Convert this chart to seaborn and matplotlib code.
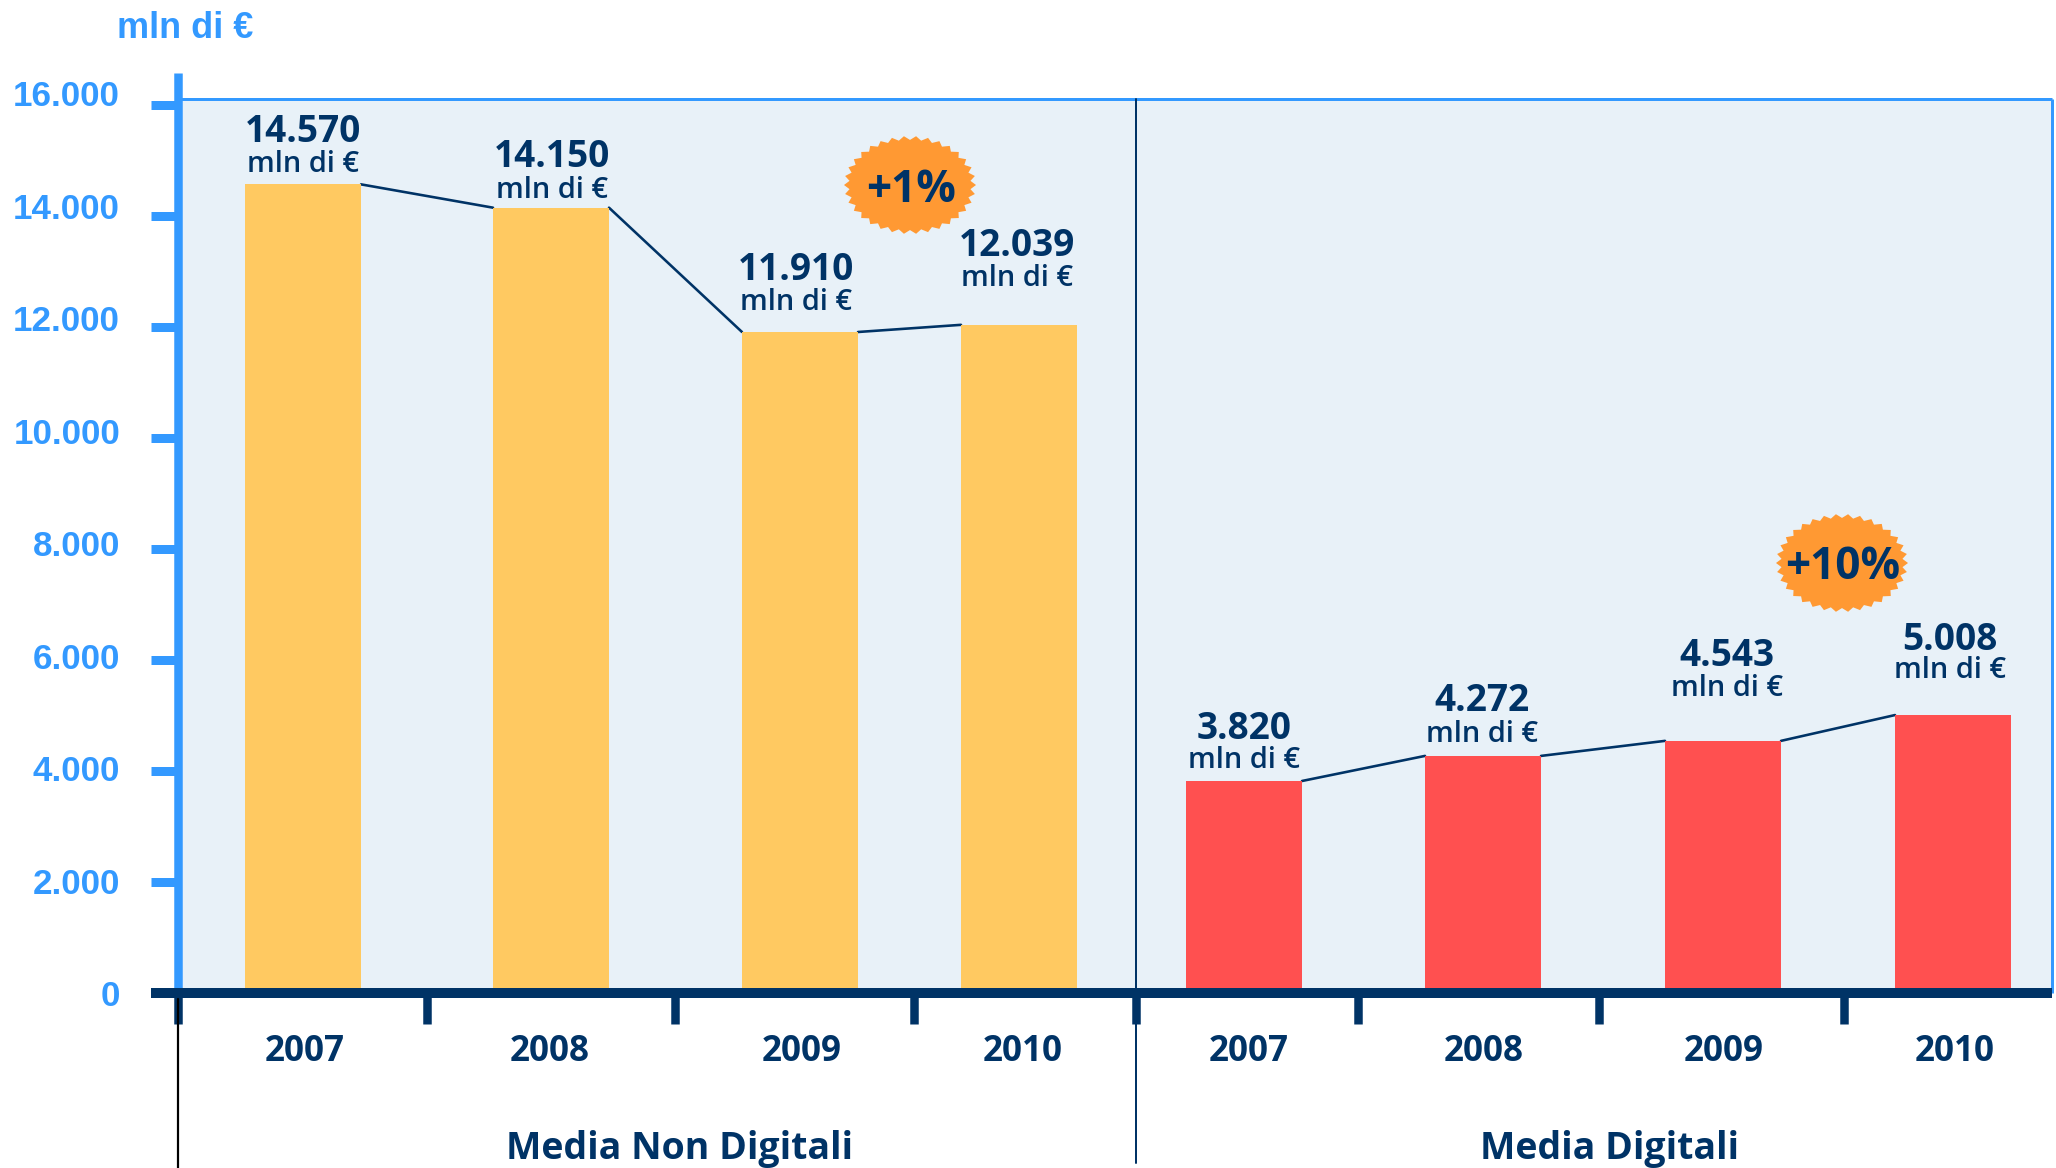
import numpy as np
import pandas as pd
import matplotlib
matplotlib.use("Agg")
import matplotlib.pyplot as plt
from matplotlib.lines import Line2D
from matplotlib.patches import Polygon
from matplotlib.transforms import ScaledTranslation
import seaborn as sns

# Advertising spend, millions of euro
years = ["2007", "2008", "2009", "2010"]
non_digital = [14570, 14150, 11910, 12039]
digital = [3820, 4272, 4543, 5008]
group_names = ["Media Non Digitali", "Media Digitali"]
growth_labels = ["+1%", "+10%"]
y_ticks = [0, 2000, 4000, 6000, 8000, 10000, 12000, 14000, 16000]
unit = "mln di €"

# Layout, in output pixels
W, H = 2056, 1168
DPI = 100
PX = 72 / DPI
y0_px, y_top_px = 993, 99
px_per_unit = 55.5 / 1000
bar_w = 116
centers = [303, 551, 800, 1019, 1244, 1483, 1723, 1953]
year_label_x = [305, 550, 802, 1023, 1249, 1484, 1724, 1955]
x_boundaries = [178, 427, 675, 914, 1136, 1358, 1599, 1844]
value_label_px = [(303, 132, 165), (552, 157, 190), (796, 270, 302), (1017, 246, 279),
                  (1244, 729, 760), (1482, 701, 734), (1727, 656, 688), (1950, 640, 671)]
badge_px = [(910, 185), (1842, 563)]
group_label_px = [(679, 1149), (1610, 1149)]

NAVY = "#003366"
SKY = "#3399FF"
PANEL = "#E8F1F8"
AMBER = "#FFC961"
CORAL = "#FF5050"
BADGE = "#FF9933"

sns.set_theme(style="white")
plt.rcParams["font.family"] = ["Open Sans", "DejaVu Sans"]
ARIAL_LIKE = ["Liberation Sans", "DejaVu Sans"]


def fx(x):
    return x / W


def fy(y):
    return 1 - y / H


def thousands(v):
    return f"{v:,}".replace(",", ".")


fig = plt.figure(figsize=(W / DPI, H / DPI), dpi=DPI, facecolor="white")
ax = fig.add_axes([fx(178), fy(y0_px), fx(2052 - 178), (y0_px - y_top_px) / H])
ax.set_facecolor(PANEL)

values = non_digital + digital
df = pd.DataFrame({
    "pos": centers,
    "value": values,
    "group": [group_names[0]] * 4 + [group_names[1]] * 4,
})
native_gap = min(np.diff(centers))
sns.barplot(data=df, x="pos", y="value", hue="group", native_scale=True, dodge=False,
            palette=[AMBER, CORAL], width=bar_w / native_gap, gap=0, saturation=1,
            linewidth=0, legend=False, ax=ax, zorder=3)

# Trend segments run from the top corner of one bar to the next
for group_values, group_centers in ((non_digital, centers[:4]), (digital, centers[4:])):
    for i in range(3):
        sns.lineplot(x=[group_centers[i] + bar_w / 2, group_centers[i + 1] - bar_w / 2],
                     y=[group_values[i], group_values[i + 1]],
                     color=NAVY, linewidth=2.6 * PX, estimator=None, sort=False,
                     ax=ax, legend=False, zorder=2)

ax.set_xlim(178, 2052)
ax.set_ylim(0, (y0_px - y_top_px) / px_per_unit)
ax.set_xlabel("")
ax.set_ylabel("")

# Axis frame
for name, colour, lw in (("top", SKY, 3), ("right", SKY, 3), ("left", SKY, 8.5), ("bottom", NAVY, 10)):
    spine = ax.spines[name]
    spine.set_visible(True)
    spine.set_color(colour)
    spine.set_linewidth(lw * PX)
    spine.set_capstyle("butt")
    spine.set_zorder(5)
ax.spines["left"].set_bounds(0, (y0_px - 73) / px_per_unit)
ax.spines["bottom"].set_bounds(151, 2052)
ax.spines["bottom"].set_zorder(6)

# Value axis
ax.set_yticks(y_ticks)
ax.set_yticklabels([thousands(v) for v in y_ticks], family=ARIAL_LIKE, fontweight="bold",
                   fontsize=35 * PX, color=SKY)
ax.tick_params(axis="y", which="major", left=True, length=27 * PX, width=9 * PX, color=SKY,
               pad=31 * PX)
for tick_value, label in zip(y_ticks, ax.get_yticklabels()):
    shift = ScaledTranslation(0, 12 * PX / 72 * tick_value / 16000, fig.dpi_scale_trans)
    label.set_transform(label.get_transform() + shift)

# Year axis: boundaries as major ticks, year names under their bars
ax.set_xticks(x_boundaries)
ax.set_xticklabels([])
ax.tick_params(axis="x", which="major", bottom=True, length=31 * PX, width=8.5 * PX, color=NAVY)
ax.set_xticks(year_label_x, minor=True)
ax.set_xticklabels(years + years, minor=True, fontweight="bold", fontsize=35 * PX, color=NAVY)
ax.tick_params(axis="x", which="minor", bottom=False, length=0, pad=41 * PX)

# Group separators below and across the plot
fig.add_artist(Line2D([fx(1136), fx(1136)], [fy(99), fy(1163)], color=NAVY, lw=2 * PX, zorder=7))
fig.add_artist(Line2D([fx(178), fx(178)], [fy(999), fy(1168)], color="black", lw=2.2 * PX, zorder=7))

# Value callouts
for v, (x, y_num, y_unit) in zip(values, value_label_px):
    fig.text(fx(x), fy(y_num), thousands(v), ha="center", va="center", fontsize=37 * PX,
             fontweight="bold", color=NAVY, zorder=8)
    fig.text(fx(x), fy(y_unit), unit, ha="center", va="center", fontsize=29 * PX,
             fontweight="semibold", color=NAVY, zorder=8)

# Growth badges
teeth = 34
angles = np.linspace(0, 2 * np.pi, 2 * teeth, endpoint=False)
radii = np.where(np.arange(2 * teeth) % 2 == 0, 1.0, 0.92)
for (cx, cy), text in zip(badge_px, growth_labels):
    xs = cx + 66 * radii * np.cos(angles)
    ys = cy + 49 * radii * np.sin(angles)
    fig.add_artist(Polygon(np.column_stack([fx(xs), fy(ys)]), closed=True, facecolor=BADGE,
                           edgecolor="none", transform=fig.transFigure, zorder=8))
    fig.text(fx(cx + 1), fy(cy + 5), text, ha="center", va="center", fontsize=44 * PX,
             fontweight="bold", color=NAVY, zorder=9)

# Group names and unit caption
for (x, y), name in zip(group_label_px, group_names):
    fig.text(fx(x), fy(y), name, ha="center", va="center", fontsize=37.5 * PX,
             fontweight="bold", color=NAVY)
fig.text(fx(185), fy(28), unit, ha="center", va="center", family=ARIAL_LIKE, fontsize=36 * PX,
         fontweight="bold", color=SKY)

fig.savefig("out.png", dpi=DPI, facecolor="white")
